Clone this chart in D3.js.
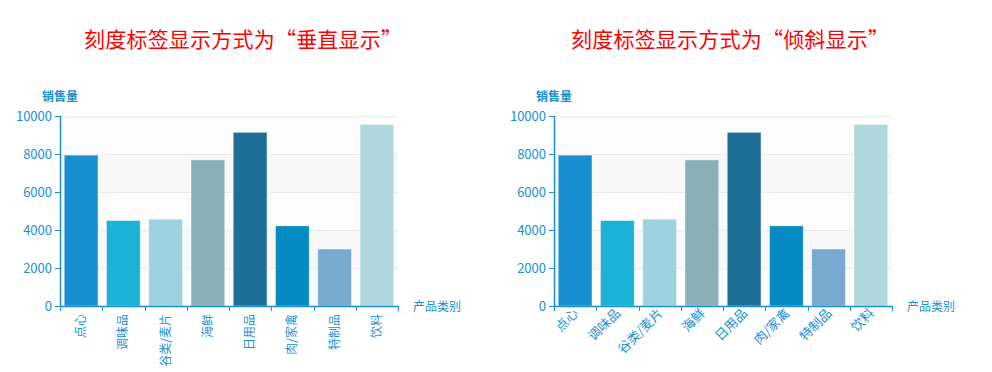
<!DOCTYPE html>
<html><head><meta charset="utf-8">
<script src="https://cdnjs.cloudflare.com/ajax/libs/d3/7.8.5/d3.min.js"></script>
<style>
html,body{margin:0;padding:0;background:#fff;}
svg{display:block;font-family:"Noto Sans CJK SC","Noto Sans",sans-serif;}
</style></head>
<body><svg id="c" width="992" height="372"></svg>
<script>
const categories = ["点心","调味品","谷类/麦片","海鲜","日用品","肉/家禽","特制品","饮料"];
const sales = [7940, 4500, 4570, 7690, 9140, 4220, 3000, 9550];
const barColors = ["#1890d0","#1cb2d6","#9dd3df","#8aafb7","#1e6f98","#058bc2","#78aad0","#b0d7de"];
const yTicks = [0, 2000, 4000, 6000, 8000, 10000];
const titles = ["刻度标签显示方式为“垂直显示”", "刻度标签显示方式为“倾斜显示”"];
const yName = "销售量", xName = "产品类别";

const axisColor = "#1a8fd4";
const svg = d3.select("#c");

function drawChart(ox, mode, title, titleCx) {
  const left = ox, right = ox + 338, top = 116, bottom = 306;
  const g = svg.append("g");
  const x = d3.scaleBand().domain(categories).range([left, right]).paddingInner(0.2).paddingOuter(0.1);
  const y = d3.scaleLinear().domain([0, 10000]).range([bottom, top]);

  // title
  g.append("text").attr("x", titleCx - 159).attr("y", 47).attr("text-anchor", "start")
    .attr("fill", "#ff0000").attr("font-size", 21)
    .attr("textLength", 318).attr("lengthAdjust", "spacing").text(title);

  // split areas
  for (let i = 0; i < yTicks.length - 1; i++) {
    g.append("rect").attr("x", left).attr("width", right - left)
      .attr("y", y(yTicks[i+1])).attr("height", y(yTicks[i]) - y(yTicks[i+1]))
      .attr("fill", i % 2 === 1 ? "#f8f8f8" : "#fdfdfd");
  }
  // split lines
  g.selectAll(".sl").data(yTicks.slice(1)).enter().append("line")
    .attr("x1", left).attr("x2", right).attr("y1", d => y(d) + 0.5).attr("y2", d => y(d) + 0.5)
    .attr("stroke", "#eaeaea").attr("stroke-width", 1);

  // bars
  g.selectAll(".bar").data(categories).enter().append("rect")
    .attr("x", d => x(d)).attr("width", x.bandwidth())
    .attr("y", (d, i) => y(sales[i])).attr("height", (d, i) => bottom - y(sales[i]))
    .attr("fill", (d, i) => barColors[i])
    .attr("stroke", "rgba(255,255,255,0.45)").attr("stroke-width", 1);

  // y axis
  g.append("line").attr("x1", left + 0.5).attr("x2", left + 0.5).attr("y1", top).attr("y2", bottom)
    .attr("stroke", axisColor).attr("stroke-width", 1.5);
  g.selectAll(".yt").data(yTicks).enter().append("line")
    .attr("x1", left - 5).attr("x2", left).attr("y1", d => y(d) + 0.5).attr("y2", d => y(d) + 0.5)
    .attr("stroke", axisColor).attr("stroke-width", 1);
  g.selectAll(".yl").data(yTicks).enter().append("text")
    .attr("x", left - 8).attr("y", d => y(d) + 4.5).attr("text-anchor", "end")
    .attr("fill", axisColor).attr("font-size", 13).text(d => d);
  g.append("text").attr("x", left - 18).attr("y", 101).attr("fill", axisColor)
    .attr("font-size", 12).attr("font-weight", "bold").text(yName);

  // x axis
  g.append("line").attr("x1", left).attr("x2", right + 1).attr("y1", bottom + 0.5).attr("y2", bottom + 0.5)
    .attr("stroke", axisColor).attr("stroke-width", 1.5);
  const step = x.step();
  const bounds = d3.range(categories.length + 1).map(i => left + i * step);
  g.selectAll(".xt").data(bounds).enter().append("line")
    .attr("x1", d => Math.round(d) + 0.5).attr("x2", d => Math.round(d) + 0.5)
    .attr("y1", bottom).attr("y2", bottom + 5)
    .attr("stroke", axisColor).attr("stroke-width", 1);
  g.append("text").attr("x", right + 15).attr("y", bottom + 4.5).attr("fill", axisColor)
    .attr("font-size", 12).text(xName);

  const lbl = g.selectAll(".xl").data(categories).enter().append("text")
    .attr("fill", axisColor).attr("text-anchor", "end").text(d => d);
  if (mode === "vertical") {
    lbl.attr("font-size", 12)
      .attr("transform", d => `translate(${x(d) + x.bandwidth()/2 + 4},${bottom + 8}) rotate(-90)`);
  } else {
    lbl.attr("font-size", 13)
      .attr("transform", d => `translate(${x(d) + x.bandwidth()/2 + 4},${bottom + 8}) rotate(-45)`);
  }
}

drawChart(60, "vertical", titles[0], 243);
drawChart(554, "tilt", titles[1], 730);
</script></body></html>
